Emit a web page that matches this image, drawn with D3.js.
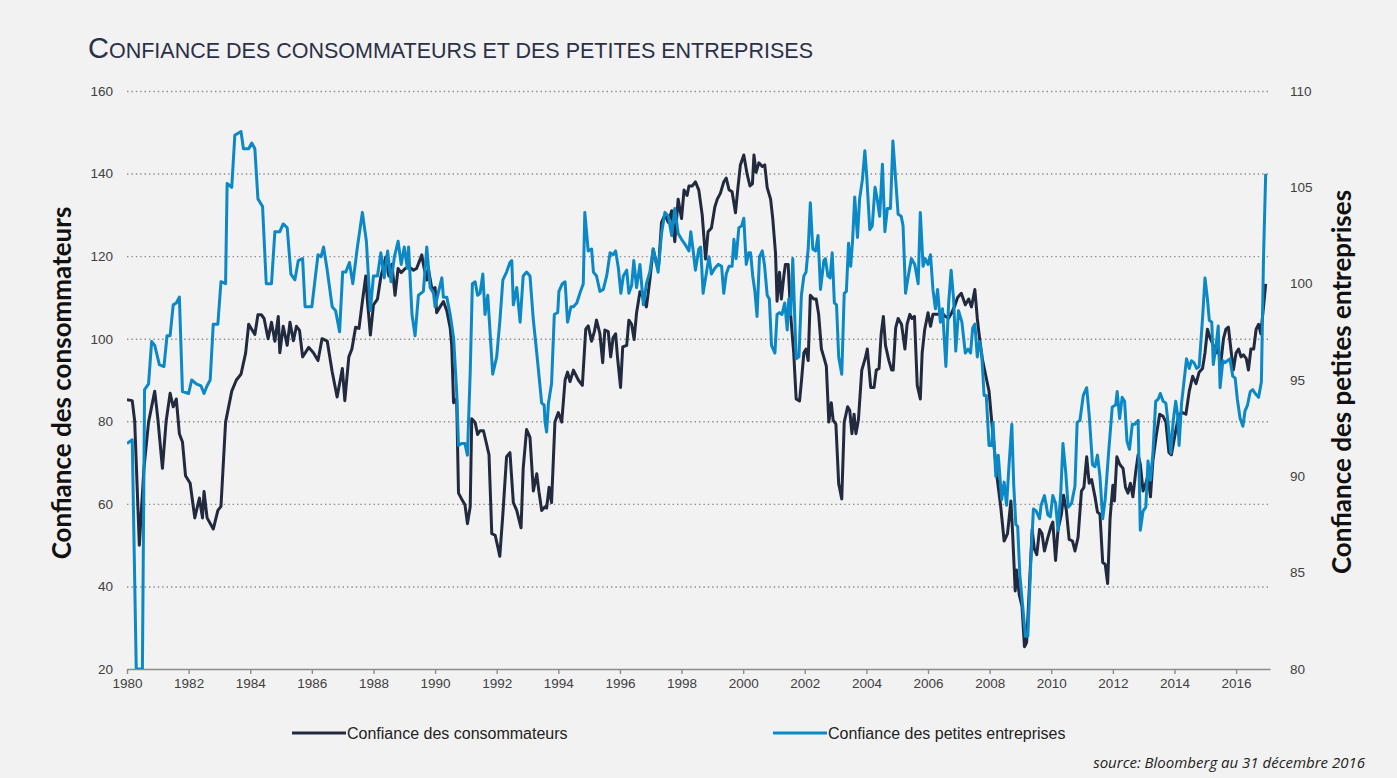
<!DOCTYPE html>
<meta charset="utf-8">
<style>
  body { margin: 0; background: #f2f2f2; }
  svg { display: block; font-family: "Liberation Sans", Arial, sans-serif; }
  .grid line { stroke: #8c8c8c; stroke-width: 1.4px; stroke-dasharray: 1.4, 3; }
  .grid .domain { display: none; }
  .axis text { font-size: 13.5px; fill: #404040; }
  .axis--y .domain, .axis--y2 .domain { display: none; }
  .axis--x .domain, .axis--x line { stroke: #8c8c8c; stroke-width: 1.4px; }
  .line { fill: none; stroke-width: 3px; stroke-linejoin: round; }
</style>
<svg width="1397" height="778"></svg>
<script src="https://cdn.jsdelivr.net/npm/d3@7"></script>
<script>

// [année décimale, valeur]
var consumerSeries = [
  [1980.0,85.2],[1980.17,85],[1980.25,80],[1980.4,50],[1980.55,68.6],[1980.7,79.8],[1980.9,87.3],[1981.0,80.7],
  [1981.15,68.6],[1981.27,80],[1981.4,86.8],[1981.5,83.5],[1981.6,85.4],[1981.7,77],[1981.8,75],[1981.9,66.8],
  [1982.05,65],[1982.2,56.6],[1982.35,61.4],[1982.45,56.6],[1982.5,63],[1982.6,56.6],[1982.8,53.9],[1982.95,58.4],
  [1983.05,59.4],[1983.2,79.8],[1983.4,87.3],[1983.55,90],[1983.7,91.4],[1983.85,96.5],[1983.95,103.5],[1984.15,101],
  [1984.25,105.8],[1984.36,105.8],[1984.45,104.9],[1984.58,100],[1984.69,104],[1984.8,99.4],[1984.91,105.4],[1984.96,96.6],
  [1985.07,103],[1985.2,98.4],[1985.29,104],[1985.4,99.5],[1985.5,103],[1985.6,102],[1985.7,95.6],[1985.9,97.9],
  [1986.05,96.6],[1986.2,94.7],[1986.33,100],[1986.5,99.4],[1986.66,92],[1986.82,85.9],[1986.99,92.8],[1987.07,85],
  [1987.2,95.6],[1987.3,97.5],[1987.42,102.8],[1987.53,102.5],[1987.64,109],[1987.75,115.2],[1987.8,109.6],[1987.9,100.9],
  [1988.0,108.2],[1988.13,109.6],[1988.24,115],[1988.4,119.8],[1988.5,115.2],[1988.6,118],[1988.7,110.5],[1988.8,117],
  [1988.9,116],[1989.03,117],[1989.14,117.5],[1989.3,116.6],[1989.4,117],[1989.57,120.3],[1989.62,118],[1989.73,114.2],
  [1989.78,117],[1989.9,111.9],[1990.0,112.4],[1990.05,106.3],[1990.16,107.7],[1990.27,109],[1990.38,106.8],[1990.49,102.6],
  [1990.54,98.4],[1990.6,84.5],[1990.7,85.4],[1990.76,62.6],[1990.86,61.2],[1990.97,59.8],[1991.05,55.2],[1991.14,59.3],
  [1991.19,80.6],[1991.3,79.7],[1991.38,76.8],[1991.46,77.7],[1991.57,77.7],[1991.68,74.2],[1991.75,71.9],[1991.84,52.8],
  [1991.95,52.4],[1992.05,49.1],[1992.1,47.3],[1992.2,57.5],[1992.32,71.4],[1992.43,72.4],[1992.54,60.3],[1992.65,58.4],
  [1992.79,54.2],[1992.86,68.6],[1992.97,78],[1993.08,76.1],[1993.19,63.1],[1993.3,67.3],[1993.37,63],[1993.46,58.4],
  [1993.57,59.3],[1993.62,59],[1993.7,64],[1993.78,60.3],[1993.89,79.8],[1994.0,82.1],[1994.11,79.8],[1994.22,90],
  [1994.3,91.9],[1994.38,89.6],[1994.49,92.4],[1994.65,90],[1994.78,88.7],[1994.89,102.3],[1994.97,103.1],[1995.08,99.4],
  [1995.17,101.7],[1995.24,104.5],[1995.35,101.2],[1995.44,94.2],[1995.51,102.1],[1995.62,101.7],[1995.7,95.6],[1995.78,100.3],
  [1995.86,101.2],[1995.92,95.6],[1996.02,88.2],[1996.09,98],[1996.22,98.4],[1996.29,104.5],[1996.38,103.5],[1996.46,99.8],
  [1996.54,106.3],[1996.65,111.4],[1996.76,110],[1996.86,107.7],[1996.97,114.2],[1997.08,121.7],[1997.19,118],[1997.26,118],
  [1997.35,128.2],[1997.46,130],[1997.57,128.2],[1997.68,131],[1997.78,123.5],[1997.89,133.8],[1998.0,129.1],[1998.08,136],
  [1998.18,134.7],[1998.24,137],[1998.35,137],[1998.45,138],[1998.56,136],[1998.67,130],[1998.78,119.3],[1998.86,125.9],
  [1998.97,126.8],[1999.08,131.9],[1999.16,133.8],[1999.26,135.2],[1999.37,138],[1999.45,138.9],[1999.54,136.1],[1999.64,135.6],
  [1999.75,130.5],[1999.83,136.6],[1999.91,142.1],[2000.02,144.5],[2000.13,139.8],[2000.22,137],[2000.3,137.5],[2000.35,144.5],
  [2000.42,140.3],[2000.51,142.6],[2000.62,141.7],[2000.7,142.1],[2000.78,136.6],[2000.89,133.8],[2000.96,129.1],[2001.05,120.7],
  [2001.1,109.1],[2001.18,116.1],[2001.24,109.6],[2001.32,115.2],[2001.37,118],[2001.46,118],[2001.54,105.9],[2001.64,96.6],
  [2001.72,85.4],[2001.83,84.9],[2001.89,89.6],[2001.97,96.6],[2002.04,97.5],[2002.11,94.7],[2002.18,110.5],[2002.29,109.6],
  [2002.37,109.6],[2002.45,105.9],[2002.54,97.5],[2002.65,94.7],[2002.7,93.3],[2002.78,79.8],[2002.86,84.5],[2002.92,80.3],
  [2003.01,79.3],[2003.1,64.9],[2003.2,61.2],[2003.28,79.8],[2003.39,83.5],[2003.46,82.6],[2003.53,77],[2003.6,81.7],
  [2003.66,77],[2003.74,80.3],[2003.85,92.4],[2003.96,95.2],[2004.03,97.5],[2004.14,88.2],[2004.25,88.2],[2004.32,92.4],
  [2004.41,92.8],[2004.48,101.2],[2004.55,105.4],[2004.62,98.4],[2004.73,94.7],[2004.82,92.4],[2004.87,92.4],[2004.95,102.6],
  [2005.03,104.9],[2005.14,103.5],[2005.25,97.5],[2005.32,103.5],[2005.41,105.9],[2005.48,104.9],[2005.56,105.4],[2005.65,88.7],
  [2005.75,85.4],[2005.81,96.6],[2005.89,102.1],[2006.0,106.3],[2006.08,103],[2006.16,105.9],[2006.24,105.9],[2006.34,105.9],
  [2006.45,106.3],[2006.56,105.4],[2006.67,105],[2006.77,106.3],[2006.88,108.2],[2006.96,110],[2007.08,111],[2007.21,108.2],
  [2007.32,109.6],[2007.41,107.7],[2007.52,111.9],[2007.6,104.9],[2007.67,100.3],[2007.76,95.2],[2007.89,90.5],[2007.98,87.3],
  [2008.07,79.8],[2008.14,74.2],[2008.25,65.9],[2008.36,59.3],[2008.47,51],[2008.58,52.8],[2008.69,60.7],[2008.74,53.8],
  [2008.83,38.9],[2008.87,44],[2008.96,38],[2009.05,35.2],[2009.13,25.4],[2009.2,26.4],[2009.29,39.8],[2009.38,53.8],
  [2009.45,49.1],[2009.53,47.7],[2009.62,53.8],[2009.7,52.8],[2009.78,48.6],[2009.89,51.9],[2010.0,54.7],[2010.05,55.6],
  [2010.14,46.3],[2010.22,53.8],[2010.33,57.5],[2010.4,62.1],[2010.49,58.4],[2010.58,51.4],[2010.69,51],[2010.77,48.6],
  [2010.87,51.9],[2010.98,63.1],[2011.06,64],[2011.15,71.4],[2011.23,65],[2011.31,65.9],[2011.42,61.7],[2011.5,58],
  [2011.58,57.5],[2011.67,45.8],[2011.75,45.4],[2011.83,40.7],[2011.91,56.6],[2012.0,64.5],[2012.05,60.7],[2012.13,71.4],
  [2012.22,69.6],[2012.33,68.6],[2012.41,64],[2012.49,62.6],[2012.57,65],[2012.65,61.7],[2012.74,67.7],[2012.82,71.9],
  [2012.89,69.6],[2012.98,63.1],[2013.07,65],[2013.14,66.8],[2013.22,61.7],[2013.3,70.5],[2013.41,76.6],[2013.52,81.7],
  [2013.63,81.2],[2013.72,79.8],[2013.82,72.4],[2013.9,71.9],[2013.98,75.2],[2014.07,78.9],[2014.15,81.7],[2014.26,82.1],
  [2014.37,81.7],[2014.48,87.3],[2014.59,90.9],[2014.7,89.1],[2014.8,91.9],[2014.91,92.8],[2014.99,96.6],[2015.07,102.3],
  [2015.15,100.3],[2015.26,98.4],[2015.35,96.6],[2015.42,97.5],[2015.5,93.8],[2015.59,100],[2015.67,102.3],[2015.75,102.8],
  [2015.83,97.5],[2015.91,92.4],[2016.0,96.6],[2016.08,97.5],[2016.16,95.6],[2016.24,96.1],[2016.33,95.2],[2016.4,92.4],
  [2016.48,97.5],[2016.57,97.5],[2016.65,102.3],[2016.73,103.5],[2016.8,101.2],[2016.89,107.7],[2016.96,113.3]
];

var smallBizSeries = [
  [1980.0,91.7],[1980.17,91.9],[1980.3,80],[1980.5,80],[1980.57,94.5],[1980.7,94.8],[1980.8,97],[1980.9,96.8],
  [1981.05,95.8],[1981.2,95.7],[1981.3,97.3],[1981.4,97.3],[1981.5,98.9],[1981.6,99],[1981.7,99.3],[1981.8,94.4],
  [1982.0,94.3],[1982.1,95],[1982.25,94.8],[1982.4,94.7],[1982.5,94.3],[1982.6,94.7],[1982.7,95],[1982.8,97.9],
  [1982.95,97.9],[1983.05,100.1],[1983.2,100],[1983.25,105.2],[1983.4,105],[1983.5,107.7],[1983.7,107.9],[1983.78,107],
  [1983.95,107],[1984.05,107.3],[1984.15,107],[1984.25,104.4],[1984.4,104],[1984.52,100],[1984.69,100],[1984.8,102.7],
  [1984.96,102.7],[1985.07,103.1],[1985.2,102.9],[1985.32,100.5],[1985.45,100.2],[1985.56,101.2],[1985.7,101.3],[1985.78,98.8],
  [1986.0,98.8],[1986.11,100.3],[1986.2,101.5],[1986.3,101.4],[1986.38,101.9],[1986.49,100.8],[1986.66,98.8],[1986.77,98.6],
  [1986.9,97.5],[1987.0,100.6],[1987.1,100.6],[1987.22,101.1],[1987.33,100],[1987.47,101.8],[1987.64,103.7],[1987.77,102.2],
  [1987.9,98.6],[1988.0,100.4],[1988.13,100.4],[1988.24,101.6],[1988.35,100.3],[1988.46,101.7],[1988.57,100.1],[1988.68,101.4],
  [1988.8,102.2],[1988.9,101],[1989.0,101.9],[1989.1,100.8],[1989.14,101.9],[1989.25,98.4],[1989.35,97.3],[1989.46,99.4],
  [1989.62,99.6],[1989.73,101.9],[1989.84,99.8],[1989.95,99.5],[1990.0,98.8],[1990.1,99.5],[1990.22,100.3],[1990.27,99.3],
  [1990.38,99.3],[1990.49,98.4],[1990.6,97.2],[1990.7,94.4],[1990.76,91.6],[1990.86,91.7],[1990.97,91.7],[1991.05,91.1],
  [1991.14,95.4],[1991.21,100],[1991.3,100.1],[1991.38,99.4],[1991.46,99.5],[1991.55,100.5],[1991.62,98.4],[1991.71,99.4],
  [1991.78,97.6],[1991.87,95.3],[1992.0,96.2],[1992.1,98],[1992.2,100.2],[1992.32,100.6],[1992.43,101.1],[1992.49,101.2],
  [1992.54,98.9],[1992.65,99.8],[1992.76,98],[1992.86,100.4],[1992.97,100.6],[1993.08,100.4],[1993.19,98.1],[1993.3,96.4],
  [1993.46,93.8],[1993.54,93.7],[1993.57,92.8],[1993.62,92.3],[1993.68,93.8],[1993.78,94.8],[1993.87,98.4],[1993.98,98.5],
  [1994.02,99.6],[1994.13,100],[1994.22,100.1],[1994.3,98],[1994.41,98.8],[1994.49,98.8],[1994.6,99],[1994.7,99.5],
  [1994.81,100],[1994.86,103.7],[1994.97,101.7],[1995.08,101.8],[1995.14,100.6],[1995.24,100.4],[1995.35,99.6],[1995.46,99.7],
  [1995.57,100.4],[1995.68,101.6],[1995.78,101.5],[1995.86,101.7],[1995.95,100.8],[1996.03,99.5],[1996.11,100.4],[1996.22,100.7],
  [1996.29,99.5],[1996.38,99.9],[1996.45,101.2],[1996.54,99.8],[1996.65,101],[1996.76,98.9],[1996.86,100],[1996.97,100.6],
  [1997.08,101.8],[1997.16,101.2],[1997.24,100.6],[1997.35,102.6],[1997.46,103.7],[1997.57,103.5],[1997.68,102.5],[1997.78,103.9],
  [1997.89,102.6],[1998.0,102.3],[1998.13,102],[1998.24,101.7],[1998.3,102.7],[1998.37,101.8],[1998.45,100.7],[1998.56,101.8],
  [1998.62,101.9],[1998.7,99.5],[1998.78,100.3],[1998.89,101.4],[1998.97,100.5],[1999.08,100.8],[1999.19,101],[1999.3,100.9],
  [1999.37,99.5],[1999.45,100.5],[1999.54,100.9],[1999.64,100.9],[1999.7,102.3],[1999.77,101.3],[1999.86,102.9],[1999.95,103],
  [2000.02,103.4],[2000.1,101],[2000.18,101.6],[2000.24,101.6],[2000.31,100.4],[2000.38,99.6],[2000.45,98.3],[2000.53,101.4],
  [2000.62,101.7],[2000.69,101],[2000.78,99.4],[2000.85,99.2],[2000.92,96.8],[2001.03,96.4],[2001.1,98.4],[2001.18,98.5],
  [2001.26,98.4],[2001.35,99],[2001.43,97.6],[2001.48,99.2],[2001.54,98.4],[2001.61,101.3],[2001.72,96.1],[2001.81,96.2],
  [2001.89,99.4],[2001.97,100.4],[2002.04,100.6],[2002.11,101.8],[2002.18,104.2],[2002.26,101.8],[2002.35,101.7],[2002.43,102.5],
  [2002.51,99.7],[2002.62,101.2],[2002.67,101.3],[2002.75,100.4],[2002.82,100.3],[2002.89,101.6],[2002.96,99],[2003.03,98.9],
  [2003.1,96.2],[2003.2,95.3],[2003.28,99.5],[2003.35,99.6],[2003.42,102.1],[2003.49,100.9],[2003.55,102.2],[2003.62,104.5],
  [2003.71,102.4],[2003.78,104.4],[2003.87,105.4],[2003.95,106.9],[2004.01,105.6],[2004.11,102.8],[2004.19,103],[2004.28,105],
  [2004.35,104.4],[2004.43,103.5],[2004.52,106.2],[2004.6,102.7],[2004.68,103.9],[2004.78,103.9],[2004.86,107.4],[2004.95,105.4],
  [2005.03,103.6],[2005.13,103.5],[2005.19,103],[2005.27,99.5],[2005.35,100.3],[2005.46,101.3],[2005.57,101],[2005.68,100],
  [2005.75,103.7],[2005.84,100.9],[2005.91,101.3],[2006.0,101],[2006.08,101.5],[2006.16,99.7],[2006.24,98.7],[2006.31,99.7],
  [2006.4,98],[2006.47,98.7],[2006.58,95.7],[2006.67,99],[2006.75,100.7],[2006.83,99.2],[2006.9,96.5],[2006.99,98.6],
  [2007.1,98],[2007.21,96.4],[2007.3,96.6],[2007.38,96.4],[2007.45,97.7],[2007.52,97.9],[2007.6,96.2],[2007.67,97],
  [2007.74,96.4],[2007.82,94.2],[2007.89,94.2],[2007.98,91.6],[2008.07,91.6],[2008.11,92.8],[2008.2,90],[2008.28,91.1],
  [2008.39,88.8],[2008.47,89.7],[2008.55,88.5],[2008.63,90.6],[2008.72,92.7],[2008.78,89.6],[2008.85,87.5],[2008.91,87.4],
  [2008.98,84.9],[2009.07,83.3],[2009.16,81.7],[2009.24,81.7],[2009.34,85.7],[2009.42,88.3],[2009.51,88.2],[2009.62,87.8],
  [2009.67,88.5],[2009.78,89],[2009.89,88],[2009.97,87.9],[2010.05,89],[2010.14,88.6],[2010.22,87.2],[2010.31,89.2],
  [2010.38,91.7],[2010.47,90.2],[2010.55,88.4],[2010.66,88.6],[2010.77,89.5],[2010.84,92.8],[2010.93,92.9],[2011.04,94.2],
  [2011.15,94.6],[2011.23,93.2],[2011.34,90.6],[2011.42,90.5],[2011.5,91.1],[2011.58,90],[2011.67,87.8],[2011.75,88.8],
  [2011.86,91.2],[2011.98,93.6],[2012.09,93.7],[2012.14,94.4],[2012.22,93],[2012.3,94.1],[2012.38,93.9],[2012.46,91.8],
  [2012.54,91.4],[2012.63,92.7],[2012.71,92.7],[2012.82,92.9],[2012.89,87.2],[2012.98,88.2],[2013.07,88.4],[2013.14,90.8],
  [2013.22,89.8],[2013.3,91.2],[2013.39,93.9],[2013.47,94],[2013.54,94.3],[2013.63,93.9],[2013.72,93.8],[2013.79,92.8],
  [2013.88,91.2],[2013.96,92.9],[2014.04,93.9],[2014.1,93.2],[2014.15,91.6],[2014.23,93.8],[2014.3,94.8],[2014.39,96.1],
  [2014.48,95.6],[2014.55,96],[2014.63,95.9],[2014.72,95.6],[2014.8,95.7],[2014.91,98.2],[2014.99,100.3],[2015.07,99.2],
  [2015.13,98.1],[2015.21,98],[2015.26,95.8],[2015.35,96.8],[2015.42,97.8],[2015.48,94.6],[2015.57,96],[2015.64,95.9],
  [2015.72,96],[2015.8,96.1],[2015.89,95.2],[2015.97,95.1],[2016.04,94],[2016.13,93],[2016.22,92.6],[2016.29,93.4],
  [2016.37,93.7],[2016.46,94.4],[2016.54,94.5],[2016.62,94.3],[2016.73,94.1],[2016.82,94.9],[2016.89,101.4],[2016.96,105.7]
];

var yearTicks = d3.range(1980, 2018, 2);
var leftTicks = [20, 40, 60, 80, 100, 120, 140, 160];
var rightTicks = [80, 85, 90, 95, 100, 105, 110];

var titleFirst = "C",
    titleRest = "ONFIANCE DES CONSOMMATEURS ET DES PETITES ENTREPRISES",
    leftLabel = "Confiance des consommateurs",
    rightLabel = "Confiance des petites entreprises",
    sourceText = "source: Bloomberg au 31 décembre 2016";

var svg = d3.select("svg"),
    margin = {top: 91, left: 127},
    width = 1143,
    height = 578,
    g = svg.append("g").attr("transform", "translate(" + margin.left + "," + margin.top + ")");

var x = d3.scaleLinear().domain([1980, 2017.1]).range([0, width]);
var y = d3.scaleLinear().domain([20, 160]).range([height, 0]);
var y2 = d3.scaleLinear().domain([80, 110]).range([height, 0]);

// titre
svg.append("text")
    .attr("x", 88).attr("y", 58)
    .attr("fill", "#2b3048")
    .call(function(t) {
      t.append("tspan").attr("font-size", 29).text(titleFirst);
      t.append("tspan").attr("font-size", 21.5).text(titleRest);
    });

// grille pointillée
g.append("g")
    .attr("class", "grid")
    .call(d3.axisLeft(y).tickValues(leftTicks.slice(1)).tickSize(-width).tickFormat(""));

g.append("g")
    .attr("class", "axis axis--y")
    .call(d3.axisLeft(y).tickValues(leftTicks).tickSize(0).tickPadding(14));

g.append("g")
    .attr("class", "axis axis--y2")
    .attr("transform", "translate(" + width + ",0)")
    .call(d3.axisRight(y2).tickValues(rightTicks).tickSize(0).tickPadding(20));

g.append("g")
    .attr("class", "axis axis--x")
    .attr("transform", "translate(0," + height + ")")
    .call(d3.axisBottom(x).tickValues(yearTicks).tickFormat(d3.format("d")).tickSize(5).tickSizeOuter(0).tickPadding(4));

g.append("defs").append("clipPath")
    .attr("id", "clip")
    .append("rect")
    .attr("y", -5)
    .attr("width", width)
    .attr("height", height + 5);

var lineLeft = d3.line().x(function(d) { return x(d[0]); }).y(function(d) { return y(d[1]); });
var lineRight = d3.line().x(function(d) { return x(d[0]); }).y(function(d) { return y2(d[1]); });

var plot = g.append("g").attr("clip-path", "url(#clip)");

plot.append("path")
    .datum(consumerSeries)
    .attr("class", "line")
    .attr("stroke", "#222a40")
    .attr("d", lineLeft);

plot.append("path")
    .datum(smallBizSeries)
    .attr("class", "line")
    .attr("stroke", "#0b88c6")
    .attr("d", lineRight);

// titres d'axes
svg.append("text")
    .attr("transform", "translate(71,383) rotate(-90)")
    .attr("text-anchor", "middle")
    .attr("font-family", "Lato")
    .attr("font-weight", "bold")
    .attr("font-size", 26)
    .attr("fill", "#111")
    .text(leftLabel);

svg.append("text")
    .attr("transform", "translate(1351,382) rotate(-90)")
    .attr("text-anchor", "middle")
    .attr("font-family", "Lato")
    .attr("font-weight", "bold")
    .attr("font-size", 26)
    .attr("fill", "#111")
    .text(rightLabel);

// légende
var legend = svg.append("g").attr("font-size", 16).attr("fill", "#222");
[[292, "#222a40", leftLabel], [773, "#0b88c6", rightLabel]].forEach(function(d) {
  legend.append("line")
      .attr("x1", d[0]).attr("x2", d[0] + 54)
      .attr("y1", 733).attr("y2", 733)
      .attr("stroke", d[1]).attr("stroke-width", 3);
  legend.append("text")
      .attr("x", d[0] + 55).attr("y", 738.5)
      .text(d[2]);
});

svg.append("text")
    .attr("x", 1365).attr("y", 768)
    .attr("text-anchor", "end")
    .attr("font-family", "Open Sans")
    .attr("font-style", "italic")
    .attr("font-size", 15)
    .attr("fill", "#222")
    .text(sourceText);

</script>
